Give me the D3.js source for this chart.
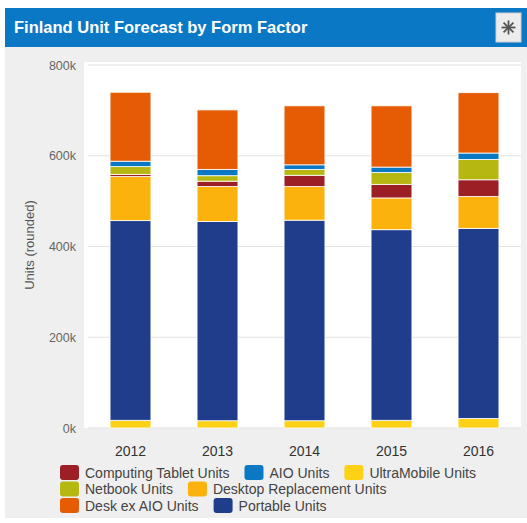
<!DOCTYPE html>
<html>
<head>
<meta charset="utf-8">
<script src="https://cdnjs.cloudflare.com/ajax/libs/d3/7.8.5/d3.min.js"></script>
<style>
  body { margin: 0; background: #ffffff; font-family: Arial, "Liberation Sans", sans-serif; }
</style>
</head>
<body>
<div id="chart"></div>
<script>
// Data (units)
var years = ["2012", "2013", "2014", "2015", "2016"];
var ultraMobile = [17000, 16000, 16000, 17000, 21000];
var portable = [440000, 439000, 442000, 420000, 419000];
var desktopReplacement = [97000, 77000, 74000, 70000, 70000];
var computingTablet = [5000, 12000, 25000, 30000, 37000];
var netbook = [17000, 12000, 13000, 26000, 45000];
var aio = [12000, 14000, 10000, 12000, 14000];
var deskExAio = [152000, 131000, 130000, 135000, 133000];
var yTicks = [0, 200000, 400000, 600000, 800000];

// Series in stacking order (bottom to top)
var stackKeys = ["UltraMobile Units", "Portable Units", "Desktop Replacement Units",
    "Computing Tablet Units", "Netbook Units", "AIO Units", "Desk ex AIO Units"];
// Series in legend order
var legendKeys = ["Computing Tablet Units", "AIO Units", "UltraMobile Units",
    "Netbook Units", "Desktop Replacement Units", "Desk ex AIO Units", "Portable Units"];

var colors = {
    "Computing Tablet Units": "#9c1f26",
    "AIO Units": "#0b78c4",
    "UltraMobile Units": "#fcd116",
    "Netbook Units": "#b7b711",
    "Desktop Replacement Units": "#fbb20c",
    "Desk ex AIO Units": "#e55c05",
    "Portable Units": "#203d8b"
};

// Build rows for d3.stack
var rows = years.map(function (y, i) {
    return {
        year: y,
        "UltraMobile Units": ultraMobile[i],
        "Portable Units": portable[i],
        "Desktop Replacement Units": desktopReplacement[i],
        "Computing Tablet Units": computingTablet[i],
        "Netbook Units": netbook[i],
        "AIO Units": aio[i],
        "Desk ex AIO Units": deskExAio[i]
    };
});

var series = d3.stack().keys(stackKeys)(rows);

var width = 527, height = 523;

var svg = d3.select("#chart")
    .append("svg")
    .attr("width", width)
    .attr("height", height);

// Panel background
svg.append("rect")
    .attr("x", 5).attr("y", 47)
    .attr("width", 522).attr("height", 471)
    .attr("fill", "#efefef");

// Title bar
svg.append("rect")
    .attr("x", 5).attr("y", 8)
    .attr("width", 522).attr("height", 39)
    .attr("fill", "#0b78c6");

svg.append("text")
    .attr("x", 14).attr("y", 32.5)
    .attr("fill", "#ffffff")
    .attr("font-size", "16.5px")
    .attr("font-weight", "bold")
    .text("Finland Unit Forecast by Form Factor");

// Close / options button
svg.append("rect")
    .attr("x", 496).attr("y", 13)
    .attr("width", 25).attr("height", 29)
    .attr("fill", "#ececec")
    .attr("stroke", "#d0d0d0");

var cx = 508.5, cy = 27.5;
[0, 45, 90, 135].forEach(function (a) {
    svg.append("line")
        .attr("x1", cx - 7).attr("y1", cy)
        .attr("x2", cx + 7).attr("y2", cy)
        .attr("stroke", "#555")
        .attr("stroke-width", 1.8)
        .attr("transform", "rotate(" + a + "," + cx + "," + cy + ")");
});

// Plot area
svg.append("rect")
    .attr("x", 84).attr("y", 62)
    .attr("width", 437).attr("height", 366)
    .attr("fill", "#ffffff");

// Scales
var xScale = d3.scaleBand()
    .domain(years)
    .range([87, 522])
    .paddingInner(0.53)
    .paddingOuter(0.265);

var yScale = d3.scaleLinear()
    .domain([0, 800000])
    .range([428, 65]);

// Gridlines
svg.append("g")
    .selectAll("line")
    .data(yTicks)
    .enter()
    .append("line")
    .attr("x1", 88).attr("x2", 521)
    .attr("y1", function (d) { return yScale(d); })
    .attr("y2", function (d) { return yScale(d); })
    .attr("stroke", "#e2e2e2");

// Y axis
var yAxis = svg.append("g")
    .attr("transform", "translate(79,0)")
    .call(d3.axisLeft(yScale)
        .tickValues(yTicks)
        .tickSize(0)
        .tickFormat(function (d) { return (d / 1000) + "k"; }));
yAxis.select(".domain").remove();
yAxis.selectAll("text")
    .attr("fill", "#666")
    .attr("font-size", "12.5px")
    .attr("font-family", "Arial, 'Liberation Sans', sans-serif");

// Y axis label
svg.append("text")
    .attr("text-anchor", "middle")
    .attr("transform", "translate(34,245) rotate(-90)")
    .attr("fill", "#555")
    .attr("font-size", "13px")
    .text("Units (rounded)");

// Bars
svg.append("g")
    .selectAll("g")
    .data(series)
    .enter()
    .append("g")
    .attr("fill", function (d) { return colors[d.key]; })
    .selectAll("rect")
    .data(function (d) { return d; })
    .enter()
    .append("rect")
    .attr("x", function (d) { return xScale(d.data.year); })
    .attr("y", function (d) { return yScale(d[1]); })
    .attr("width", xScale.bandwidth())
    .attr("height", function (d) { return yScale(d[0]) - yScale(d[1]); })
    .attr("stroke", "#ffffff")
    .attr("stroke-width", 0.8);

// X axis
var xAxis = svg.append("g")
    .attr("transform", "translate(0,443)")
    .call(d3.axisBottom(xScale).tickSize(0));
xAxis.select(".domain").remove();
xAxis.selectAll("text")
    .attr("fill", "#333")
    .attr("font-size", "14px")
    .attr("font-family", "Arial, 'Liberation Sans', sans-serif");

// Legend (flowing rows)
var legend = svg.append("g");
var lx = 60, ly = 473, maxX = 505;
legendKeys.forEach(function (key) {
    var item = legend.append("g");
    item.append("rect")
        .attr("x", 0).attr("y", -8)
        .attr("width", 19).attr("height", 15)
        .attr("rx", 3)
        .attr("fill", colors[key]);
    var t = item.append("text")
        .attr("x", 25).attr("y", 4.5)
        .attr("fill", "#444")
        .attr("font-size", "14px")
        .text(key);
    var w = 25 + t.node().getComputedTextLength();
    if (lx + w > maxX) {
        lx = 60;
        ly += 16.5;
    }
    item.attr("transform", "translate(" + lx + "," + ly + ")");
    lx += w + 15;
});
</script>
</body>
</html>
